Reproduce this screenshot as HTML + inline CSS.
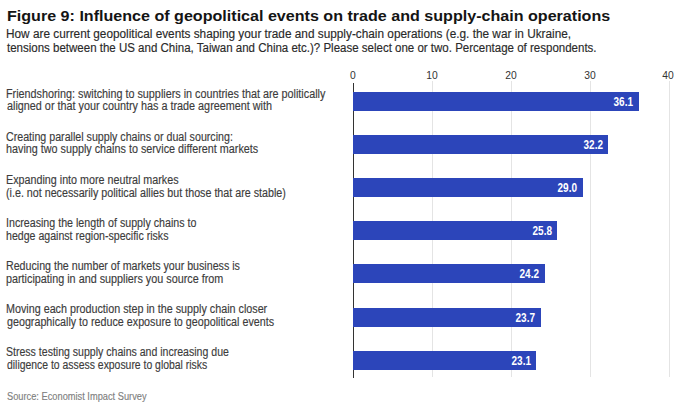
<!DOCTYPE html><html><head><meta charset="utf-8"><style>
html,body{margin:0;padding:0;background:#fff;}
body{width:690px;height:412px;position:relative;overflow:hidden;font-family:"Liberation Sans",sans-serif;}
.t{position:absolute;white-space:nowrap;line-height:1;transform-origin:0 0;-webkit-text-stroke:0.15px currentColor;}
#t{-webkit-text-stroke:0;}
.g{position:absolute;top:81px;height:296px;width:1px;background:#e4e4e4;}
.bar{position:absolute;height:19px;background:#2c45ba;}
.v{position:absolute;white-space:nowrap;line-height:1;color:#fff;font-weight:700;transform-origin:100% 0;}
.ax{position:absolute;white-space:nowrap;line-height:1;color:#333;transform-origin:50% 0;}
</style></head><body>
<div class="t" id="t" style="left:6.80px;top:7.78px;font-size:15.5px;font-weight:700;color:#141414;transform:scaleX(1.0376)">Figure 9: Influence of geopolitical events on trade and supply-chain operations</div>
<div class="t" id="s1" style="left:6.22px;top:28.09px;font-size:12.3px;font-weight:400;color:#2a2a2a;transform:scaleX(0.9602)">How are current geopolitical events shaping your trade and supply-chain operations (e.g. the war in Ukraine,</div>
<div class="t" id="s2" style="left:7.20px;top:42.39px;font-size:12.3px;font-weight:400;color:#2a2a2a;transform:scaleX(0.9357)">tensions between the US and China, Taiwan and China etc.)? Please select one or two. Percentage of respondents.</div>
<div class="t" id="l0a" style="left:6.01px;top:87.74px;font-size:12.0px;font-weight:400;color:#3c3c3c;transform:scaleX(0.9000)">Friendshoring: switching to suppliers in countries that are politically</div>
<div class="t" id="l0b" style="left:7.00px;top:100.14px;font-size:12.0px;font-weight:400;color:#3c3c3c;transform:scaleX(0.9009)">aligned or that your country has a trade agreement with</div>
<div class="t" id="l1a" style="left:6.00px;top:130.84px;font-size:12.0px;font-weight:400;color:#3c3c3c;transform:scaleX(0.8880)">Creating parallel supply chains or dual sourcing:</div>
<div class="t" id="l1b" style="left:6.00px;top:143.24px;font-size:12.0px;font-weight:400;color:#3c3c3c;transform:scaleX(0.8987)">having two supply chains to service different markets</div>
<div class="t" id="l2a" style="left:6.01px;top:173.94px;font-size:12.0px;font-weight:400;color:#3c3c3c;transform:scaleX(0.8950)">Expanding into more neutral markes</div>
<div class="t" id="l2b" style="left:6.01px;top:187.34px;font-size:12.0px;font-weight:400;color:#3c3c3c;transform:scaleX(0.8926)">(i.e. not necessarily political allies but those that are stable)</div>
<div class="t" id="l3a" style="left:6.01px;top:217.04px;font-size:12.0px;font-weight:400;color:#3c3c3c;transform:scaleX(0.8891)">Increasing the length of supply chains to</div>
<div class="t" id="l3b" style="left:6.02px;top:230.44px;font-size:12.0px;font-weight:400;color:#3c3c3c;transform:scaleX(0.8825)">hedge against region-specific risks</div>
<div class="t" id="l4a" style="left:6.01px;top:260.14px;font-size:12.0px;font-weight:400;color:#3c3c3c;transform:scaleX(0.8877)">Reducing the number of markets your business is</div>
<div class="t" id="l4b" style="left:6.01px;top:272.54px;font-size:12.0px;font-weight:400;color:#3c3c3c;transform:scaleX(0.8998)">participating in and suppliers you source from</div>
<div class="t" id="l5a" style="left:6.00px;top:303.24px;font-size:12.0px;font-weight:400;color:#3c3c3c;transform:scaleX(0.8960)">Moving each production step in the supply chain closer</div>
<div class="t" id="l5b" style="left:7.00px;top:315.64px;font-size:12.0px;font-weight:400;color:#3c3c3c;transform:scaleX(0.8935)">geographically to reduce exposure to geopolitical events</div>
<div class="t" id="l6a" style="left:6.01px;top:346.34px;font-size:12.0px;font-weight:400;color:#3c3c3c;transform:scaleX(0.8792)">Stress testing supply chains and increasing due</div>
<div class="t" id="l6b" style="left:7.00px;top:358.74px;font-size:12.0px;font-weight:400;color:#3c3c3c;transform:scaleX(0.8674)">diligence to assess exposure to global risks</div>
<div class="t" id="src" style="left:6.71px;top:390.86px;font-size:10.8px;font-weight:400;color:#808080;transform:scaleX(0.8583)">Source: Economist Impact Survey</div>
<div class="g" style="left:432.00px"></div>
<div class="g" style="left:511.10px"></div>
<div class="g" style="left:590.20px"></div>
<div class="g" style="left:669.30px"></div>
<div class="ax" style="left:323.45px;width:60px;text-align:center;top:68.98px;font-size:11.6px;transform:scaleX(0.89)">0</div>
<div class="ax" style="left:402.20px;width:60px;text-align:center;top:68.98px;font-size:11.6px;transform:scaleX(0.89)">10</div>
<div class="ax" style="left:480.95px;width:60px;text-align:center;top:68.98px;font-size:11.6px;transform:scaleX(0.89)">20</div>
<div class="ax" style="left:559.70px;width:60px;text-align:center;top:68.98px;font-size:11.6px;transform:scaleX(0.89)">30</div>
<div class="ax" style="left:638.45px;width:60px;text-align:center;top:68.98px;font-size:11.6px;transform:scaleX(0.89)">40</div>
<div style="position:absolute;left:352.65px;top:82.5px;width:1.5px;height:295px;background:#333"></div>
<div class="bar" style="left:353.00px;top:91.70px;width:285.95px"></div>
<div class="v" style="left:573.45px;width:60px;text-align:right;top:95.67px;font-size:12.2px;transform:scaleX(0.82)">36.1</div>
<div class="bar" style="left:353.00px;top:134.88px;width:255.10px"></div>
<div class="v" style="left:542.60px;width:60px;text-align:right;top:138.85px;font-size:12.2px;transform:scaleX(0.82)">32.2</div>
<div class="bar" style="left:353.00px;top:178.06px;width:229.79px"></div>
<div class="v" style="left:517.29px;width:60px;text-align:right;top:182.03px;font-size:12.2px;transform:scaleX(0.82)">29.0</div>
<div class="bar" style="left:353.00px;top:221.24px;width:204.48px"></div>
<div class="v" style="left:491.98px;width:60px;text-align:right;top:225.21px;font-size:12.2px;transform:scaleX(0.82)">25.8</div>
<div class="bar" style="left:353.00px;top:264.42px;width:191.82px"></div>
<div class="v" style="left:479.32px;width:60px;text-align:right;top:268.39px;font-size:12.2px;transform:scaleX(0.82)">24.2</div>
<div class="bar" style="left:353.00px;top:307.60px;width:187.87px"></div>
<div class="v" style="left:475.37px;width:60px;text-align:right;top:311.57px;font-size:12.2px;transform:scaleX(0.82)">23.7</div>
<div class="bar" style="left:353.00px;top:350.78px;width:183.12px"></div>
<div class="v" style="left:470.62px;width:60px;text-align:right;top:354.75px;font-size:12.2px;transform:scaleX(0.82)">23.1</div>
</body></html>
